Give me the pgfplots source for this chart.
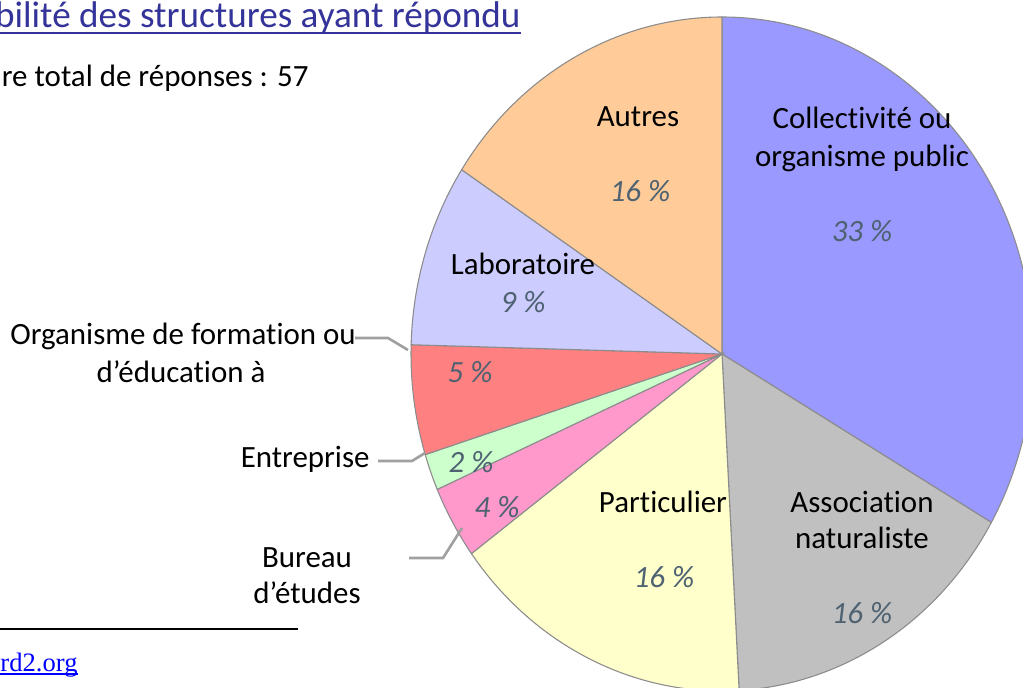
\documentclass[border=0pt]{standalone}
\usepackage{pgfplots}
\pgfplotsset{compat=1.18}
\usepackage{fontspec}
\setmainfont{Carlito}[Ligatures=NoCommon]
\newfontfamily\serif{Liberation Serif}

\definecolor{cCollect}{HTML}{9999FF}
\definecolor{cAssoc}{HTML}{C0C0C0}
\definecolor{cPartic}{HTML}{FFFFCC}
\definecolor{cBureau}{HTML}{FF99CC}
\definecolor{cEntrep}{HTML}{CCFFCC}
\definecolor{cForma}{HTML}{FF8080}
\definecolor{cLabo}{HTML}{CCCCFF}
\definecolor{cAutres}{HTML}{FFCC99}
\definecolor{pieedge}{HTML}{8C8C8C}
\definecolor{pct}{HTML}{4F6272}
\definecolor{leader}{HTML}{A0A0A0}
\definecolor{titleblue}{HTML}{333399}

\tikzset{
  lab/.style={font=\fontsize{12.9}{15}\selectfont, text=black, inner sep=0pt, anchor=base},
  pc/.style={font=\fontsize{12.9}{15}\selectfont\itshape, text=pct, inner sep=0pt, anchor=base},
}

% slice: cumulated count before, count, colour (57 answers in all)
\newcommand{\pieslice}[3]{%
  \pgfmathsetmacro\sa{90-#1/57*360}%
  \pgfmathsetmacro\ea{90-(#1+#2)/57*360}%
  \edef\doslice{\noexpand\filldraw[fill=#3,draw=pieedge,line width=0.45pt]
    (722,333) -- ++(\sa:311 and 337)
    arc[start angle=\sa,end angle=\ea,x radius=311,y radius=337] -- cycle;}%
  \doslice}

\begin{document}
\begin{tikzpicture}
\begin{axis}[
  width=15cm, height=10.073cm, scale only axis,
  xmin=0, xmax=1023, ymin=0, ymax=687,
  hide axis, clip=true, disabledatascaling,
]
\pieslice{0}{19}{cCollect}
\pieslice{19}{9}{cAssoc}
\pieslice{28}{9}{cPartic}
\pieslice{37}{2}{cBureau}
\pieslice{39}{1}{cEntrep}
\pieslice{40}{3}{cForma}
\pieslice{43}{5}{cLabo}
\pieslice{48}{9}{cAutres}

% leader lines
\draw[leader, line width=1.1pt] (355,349) -- (388,349) -- (408,337);
\draw[leader, line width=1.1pt] (378,226) -- (412,226) -- (425,234);
\draw[leader, line width=1.1pt] (409,129) -- (443,129) -- (462,159);

% slice labels
\node[lab] at (638,560) {Autres};
\node[pc]  at (640,485) {16 \%};
\node[lab] at (862,558) {Collectivité ou};
\node[lab] at (862,520) {organisme public};
\node[pc]  at (862,445) {33 \%};
\node[lab] at (523,412) {Laboratoire};
\node[pc]  at (523,374) {9 \%};
\node[lab] at (183,342) {Organisme de formation ou};
\node[lab] at (181,305) {d’éducation à};
\node[pc]  at (470,304) {5 \%};
\node[lab, anchor=base east] at (370,220) {Entreprise};
\node[pc]  at (471,215) {2 \%};
\node[pc]  at (497,170) {4 \%};
\node[lab] at (307,120) {Bureau};
\node[lab] at (307,84) {d’études};
\node[lab] at (663,175) {Particulier};
\node[pc]  at (664,100) {16 \%};
\node[lab] at (862,175) {Association};
\node[lab] at (862,139) {naturaliste};
\node[pc]  at (862,64) {16 \%};

% page text around the chart
\node[font=\fontsize{15.5}{18}\selectfont, text=titleblue, inner sep=0pt, anchor=base east]
  at (521,659) {bilité des structures ayant répondu};
\draw[titleblue, line width=0.9pt] (0,654) -- (521,654);
\node[lab, anchor=base east] at (309,600) {re total de réponses : 57};
\draw[black, line width=0.8pt] (0,58) -- (298,58);
\node[font=\serif\fontsize{11.1}{13}\selectfont, text=blue, inner sep=0pt, anchor=base west]
  at (0,16) {rd2.org};
\draw[blue, line width=0.5pt] (0,13) -- (78,13);
\end{axis}
\pgfresetboundingbox
\path[use as bounding box] (current axis.south west) rectangle (current axis.north east);
\end{tikzpicture}
\end{document}
